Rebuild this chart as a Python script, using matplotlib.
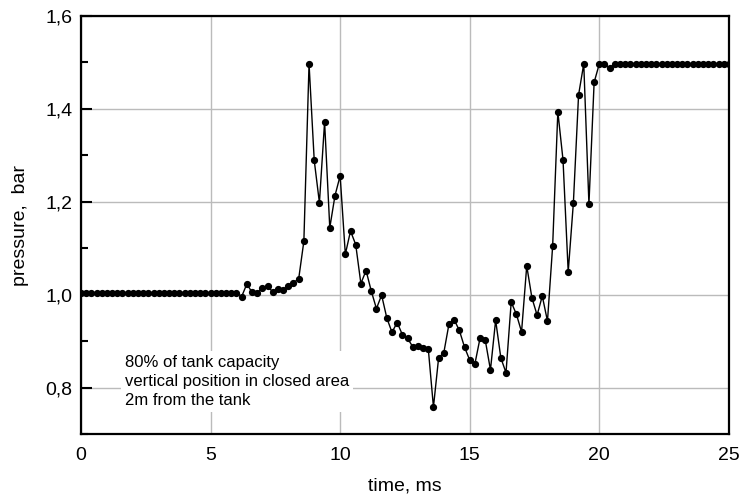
import numpy as np
import matplotlib
matplotlib.use("Agg")
from matplotlib import pyplot as plt
from matplotlib.ticker import MultipleLocator, FuncFormatter

# -- data --

time_ms = np.round(np.arange(0, 25.01, 0.2), 1)

pressure_flat_start = [1.004] * 31  # 0.0 .. 6.0 ms
pressure_event = [
    0.996, 1.023, 1.005, 1.004, 1.014, 1.018, 1.006, 1.012, 1.010, 1.018,
    1.026, 1.034, 1.115, 1.497, 1.289, 1.198, 1.372, 1.144, 1.213, 1.256,
    1.087, 1.137, 1.108, 1.024, 1.052, 1.008, 0.970, 0.999, 0.950, 0.919,
    0.940, 0.914, 0.906, 0.888, 0.889, 0.885, 0.884, 0.758, 0.864, 0.875,
    0.937, 0.946, 0.923, 0.887, 0.859, 0.851, 0.907, 0.902, 0.838, 0.945,
    0.864, 0.832, 0.984, 0.958, 0.920, 1.062, 0.993, 0.956, 0.997, 0.943,
    1.105, 1.394, 1.290, 1.049, 1.198, 1.430, 1.497, 1.195, 1.457, 1.497,
    1.497, 1.488,
]  # 6.2 .. 20.4 ms
pressure_flat_end = [1.497] * 23  # 20.6 .. 25.0 ms

pressure_bar = pressure_flat_start + pressure_event + pressure_flat_end

note = "80% of tank capacity\nvertical position in closed area\n2m from the tank"

# -- plot --

plt.rcParams['font.family'] = ['Liberation Sans', 'DejaVu Sans']

fig = plt.figure(figsize=(7.43, 5.0), dpi=100)
ax = fig.add_axes([0.109, 0.132, 0.872, 0.836])

ax.plot(time_ms, pressure_bar, color="black", lw=1.0, marker="o",
        markersize=4.2, zorder=3)

ax.set_xlim(0, 25)
ax.set_ylim(0.7, 1.6)
ax.xaxis.set_major_locator(MultipleLocator(5))
ax.yaxis.set_major_locator(MultipleLocator(0.2))
ax.yaxis.set_minor_locator(MultipleLocator(0.1))
ax.yaxis.set_major_formatter(FuncFormatter(lambda v, p: f"{v:.1f}".replace(".", ",")))

ax.grid(True, which="major", color="#bbbbbb", lw=1.0, zorder=0)
ax.tick_params(axis="y", which="both", direction="in", labelsize=14, width=1.5, pad=6)
ax.tick_params(axis="y", which="major", length=8)
ax.tick_params(axis="y", which="minor", length=5)
ax.tick_params(axis="x", length=0, labelsize=14, pad=9)
for s in ax.spines.values():
    s.set_linewidth(1.6)

ax.set_xlabel("time, ms", fontsize=14, labelpad=10)
ax.set_ylabel("pressure,  bar", fontsize=14, labelpad=12)

ax.text(1.69, 0.813, note, fontsize=12, va="center", ha="left", linespacing=1.3,
        bbox=dict(facecolor="white", edgecolor="none", pad=3), zorder=2)

fig.savefig("out.png", dpi=100)
